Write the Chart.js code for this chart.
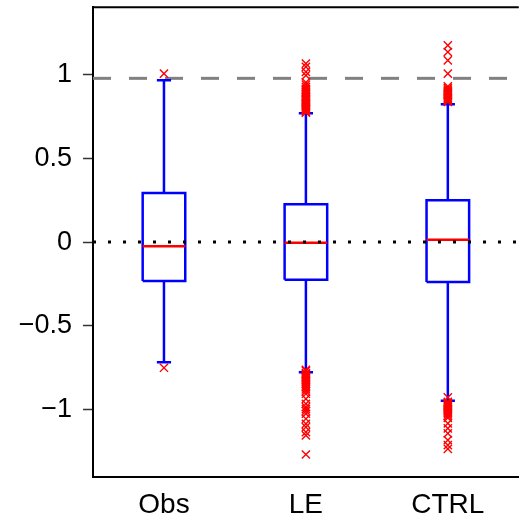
<!DOCTYPE html>
<html>
<head>
<meta charset="utf-8">
<script src="https://cdn.jsdelivr.net/npm/chart.js@4/dist/chart.umd.min.js"></script>
<style>
  html, body { margin: 0; padding: 0; background: #fff; overflow: hidden; }
  #wrap { width: 519px; height: 518px; overflow: hidden; }
</style>
</head>
<body>
<div id="wrap"><canvas id="chart" width="526" height="518"></canvas></div>
<script>
// Box statistics per group
var categories = ["Obs", "LE", "CTRL"];
var lowerWhisker = [-0.716, -0.776, -0.945];
var lowerQuartile = [-0.232, -0.224, -0.238];
var medians = [-0.024, -0.004, 0.014];
var upperQuartile = [0.292, 0.225, 0.249];
var upperWhisker = [0.964, 0.768, 0.821];

// Points beyond the whiskers
var outliersObs = [1.004, -0.749];
var outliersLE = [
  0.772, 0.778, 0.785, 0.790, 0.796, 0.801, 0.808, 0.813, 0.819, 0.826,
  0.832, 0.838, 0.845, 0.851, 0.858, 0.866, 0.873, 0.880, 0.889, 0.897,
  0.905, 0.914, 0.925, 0.938, 0.952, 0.994, 1.014, 1.044, 1.064,
  -0.762, -0.768, -0.781, -0.787, -0.794, -0.800, -0.806, -0.813, -0.820, -0.828,
  -0.836, -0.845, -0.855, -0.866, -0.878, -0.890, -0.904, -0.934, -0.964, -0.984,
  -0.995, -1.008, -1.023, -1.053, -1.083, -1.103, -1.133, -1.152, -1.266
];
var outliersCTRL = [
  0.836, 0.842, 0.848, 0.855, 0.861, 0.868, 0.874, 0.880, 0.887, 0.894,
  0.901, 0.909, 0.918, 0.928, 1.004, 1.083, 1.133, 1.173,
  -0.926, -0.952, -0.958, -0.964, -0.970, -0.976, -0.982, -0.988, -0.995, -1.002,
  -1.010, -1.018, -1.027, -1.037, -1.048, -1.080, -1.110, -1.140, -1.180, -1.210, -1.232
];
var outliers = [outliersObs, outliersLE, outliersCTRL];

var yTicks = [-1, -0.5, 0, 0.5, 1];
var referenceLevel = 0.976;
var zeroLevel = 0;

var BLUE = "#0000ff", RED = "#ff0000", GRAY = "#808080";
var BOX_HALF = 0.15, CAP_HALF = 0.05;
var X_MIN = 0.5, X_MAX = 3.5;
var FONT_FAMILY = "'Liberation Sans', Arial, Helvetica, sans-serif";

function segment(points, color, width, order, dash) {
  return {
    type: "line",
    data: points,
    showLine: true,
    borderColor: color,
    borderWidth: width,
    borderDash: dash || [],
    borderCapStyle: "butt",
    borderJoinStyle: "miter",
    pointRadius: 0,
    pointHoverRadius: 0,
    fill: false,
    tension: 0,
    order: order
  };
}

var datasets = [];

// dotted zero line sits on top of everything
datasets.push(segment([{ x: X_MIN, y: zeroLevel }, { x: X_MAX, y: zeroLevel }], "#000", 3, 0, [3, 12]));

categories.forEach(function(name, i) {
  var c = i + 1;

  datasets.push({
    type: "scatter",
    data: outliers[i].map(function(v) { return { x: c, y: v }; }),
    pointStyle: "crossRot",
    pointRadius: 5.8,
    pointHoverRadius: 5.8,
    borderColor: RED,
    backgroundColor: RED,
    pointBorderWidth: 1.4,
    order: 1
  });

  // median
  datasets.push(segment([{ x: c - BOX_HALF, y: medians[i] }, { x: c + BOX_HALF, y: medians[i] }], RED, 2.5, 2));

  // box
  datasets.push(segment([
    { x: c - BOX_HALF, y: lowerQuartile[i] },
    { x: c + BOX_HALF, y: lowerQuartile[i] },
    { x: c + BOX_HALF, y: upperQuartile[i] },
    { x: c - BOX_HALF, y: upperQuartile[i] },
    { x: c - BOX_HALF, y: lowerQuartile[i] }
  ], BLUE, 2.5, 3));

  // whiskers and caps
  datasets.push(segment([{ x: c, y: upperQuartile[i] }, { x: c, y: upperWhisker[i] }], BLUE, 2.5, 3));
  datasets.push(segment([{ x: c, y: lowerQuartile[i] }, { x: c, y: lowerWhisker[i] }], BLUE, 2.5, 3));
  datasets.push(segment([{ x: c - CAP_HALF, y: upperWhisker[i] }, { x: c + CAP_HALF, y: upperWhisker[i] }], BLUE, 2.5, 3));
  datasets.push(segment([{ x: c - CAP_HALF, y: lowerWhisker[i] }, { x: c + CAP_HALF, y: lowerWhisker[i] }], BLUE, 2.5, 3));
});

// dashed reference line behind the boxes
datasets.push(segment([{ x: X_MIN, y: referenceLevel }, { x: X_MAX, y: referenceLevel }], GRAY, 3, 4, [18, 18]));

function formatTick(v) {
  if (v < 0) return "\u2212" + String(Math.abs(v));
  return String(v);
}

// top edge of the axes box
var topFrame = {
  id: "topFrame",
  afterDraw: function(chart) {
    var ctx = chart.ctx, area = chart.chartArea;
    ctx.save();
    ctx.strokeStyle = "#000";
    ctx.lineWidth = 2;
    ctx.beginPath();
    ctx.moveTo(area.left - 1, area.top);
    ctx.lineTo(area.right, area.top);
    ctx.stroke();
    ctx.restore();
  }
};

new Chart(document.getElementById("chart"), {
  type: "scatter",
  data: { datasets: datasets },
  options: {
    responsive: false,
    animation: false,
    events: [],
    layout: { padding: { top: 7, right: 0, bottom: 0, left: 0 } },
    plugins: {
      legend: { display: false },
      tooltip: { enabled: false }
    },
    scales: {
      x: {
        type: "linear",
        min: X_MIN,
        max: X_MAX,
        afterBuildTicks: function(axis) {
          axis.ticks = categories.map(function(_, i) { return { value: i + 1 }; });
        },
        afterFit: function(axis) {
          axis.height = 41;
          axis.paddingLeft = 0;
          axis.paddingRight = 0;
        },
        ticks: {
          autoSkip: false,
          maxRotation: 0,
          padding: 11,
          color: "#000",
          font: { family: FONT_FAMILY, size: 28 },
          callback: function(v) { return categories[v - 1]; }
        },
        grid: { display: true, drawOnChartArea: false, drawTicks: false },
        border: { display: true, color: "#000", width: 2 }
      },
      y: {
        type: "linear",
        min: -1.4,
        max: 1.4,
        afterBuildTicks: function(axis) {
          axis.ticks = yTicks.map(function(v) { return { value: v }; });
        },
        afterFit: function(axis) {
          axis.width = 93;
          axis.paddingTop = 0;
          axis.paddingBottom = 0;
        },
        ticks: {
          padding: 11,
          color: "#000",
          font: { family: FONT_FAMILY, size: 27 },
          callback: formatTick
        },
        grid: {
          display: true,
          drawOnChartArea: false,
          drawTicks: true,
          tickLength: 10,
          tickColor: "#333",
          tickWidth: 1.5
        },
        border: { display: true, color: "#000", width: 2 }
      }
    }
  },
  plugins: [topFrame]
});
</script>
</body>
</html>
